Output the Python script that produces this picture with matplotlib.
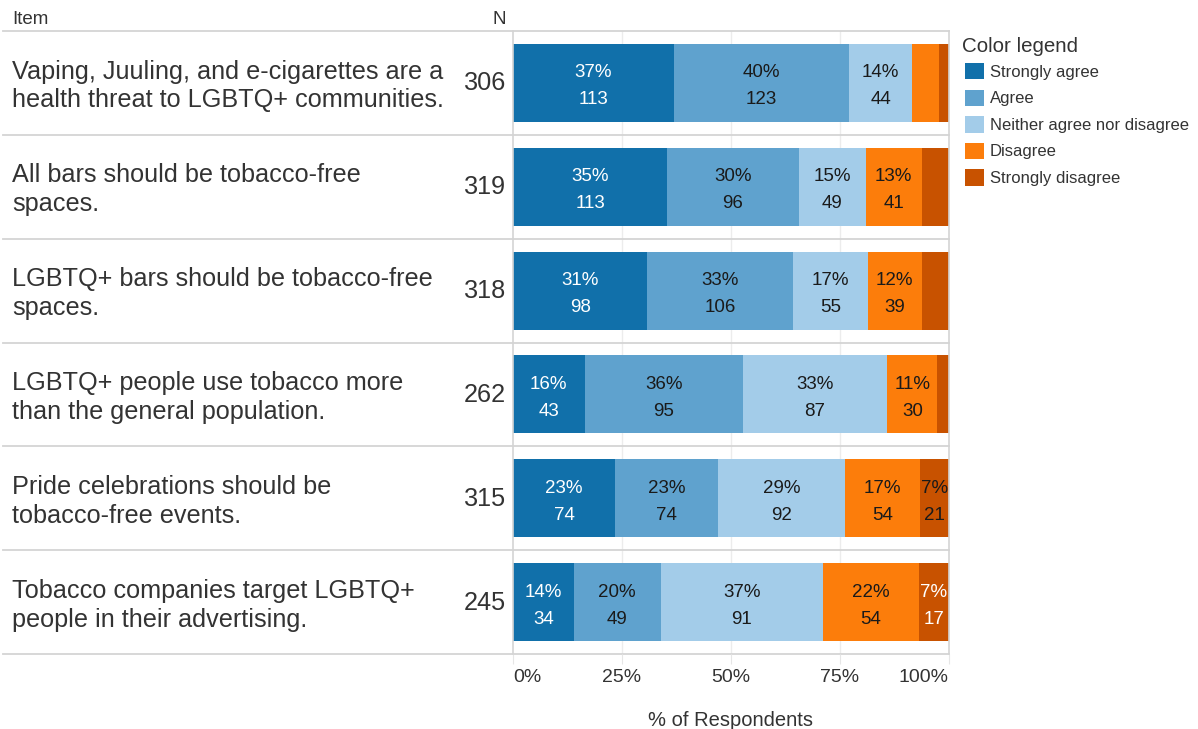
import matplotlib
matplotlib.use("Agg")
import matplotlib.pyplot as plt
from matplotlib.patches import Patch
from matplotlib.transforms import blended_transform_factory
import numpy as np

plt.rcParams["font.family"] = ["Liberation Sans", "DejaVu Sans"]

# Survey items, responses per agreement level
items = [
    "Vaping, Juuling, and e-cigarettes are a\nhealth threat to LGBTQ+ communities.",
    "All bars should be tobacco-free\nspaces.",
    "LGBTQ+ bars should be tobacco-free\nspaces.",
    "LGBTQ+ people use tobacco more\nthan the general population.",
    "Pride celebrations should be\ntobacco-free events.",
    "Tobacco companies target LGBTQ+\npeople in their advertising.",
]
levels = ["Strongly agree", "Agree", "Neither agree nor disagree",
          "Disagree", "Strongly disagree"]
strongly_agree = [113, 113, 98, 43, 74, 34]
agree = [123, 96, 106, 95, 74, 49]
neither = [44, 49, 55, 87, 92, 91]
disagree = [19, 41, 39, 30, 54, 54]
strongly_disagree = [7, 20, 20, 7, 21, 17]
x_ticks = [0, 0.25, 0.5, 0.75, 1.0]
x_tick_labels = ["0%", "25%", "50%", "75%", "100%"]

colors = ["#1170aa", "#5fa2ce", "#a3cce9", "#fc7d0b", "#c85200"]
label_colors = ["white", "#1a1a1a", "#1a1a1a", "#1a1a1a", "#1a1a1a"]
# individual label colour overrides (row, level)
label_color_override = {(5, 4): "white"}
text_color = "#333333"
line_color = "#d4d4d4"

counts = np.array([strongly_agree, agree, neither, disagree, strongly_disagree]).T
totals = counts.sum(axis=1)
shares = counts / totals[:, None]

W, H = 1198, 729
fig = plt.figure(figsize=(W / 100, H / 100), dpi=100)
ax_l, ax_r, ax_t, ax_b = 513, 949, 31, 654
ax = fig.add_axes([ax_l / W, 1 - ax_b / H, (ax_r - ax_l) / W, (ax_b - ax_t) / H])

n = len(items)
ax.set_ylim(n, 0)
ax.set_xlim(0, 1)

# vertical gridlines
for xv in x_ticks[1:-1]:
    ax.axvline(xv, color="#ececec", lw=1.0, zorder=0)

bar_h = 0.75
for i in range(n):
    left = 0.0
    for j in range(len(levels)):
        w = shares[i, j]
        ax.barh(i + 0.5, w, left=left, height=bar_h, color=colors[j],
                edgecolor="none", zorder=2)
        if w >= 0.065:
            cx = left + w / 2
            c = label_color_override.get((i, j), label_colors[j])
            ax.text(cx, i + 0.5 - 0.097, f"{round(w * 100):d}%", ha="center",
                    va="center", fontsize=13.5, color=c, zorder=3)
            ax.text(cx, i + 0.5 + 0.163, f"{counts[i, j]}", ha="center",
                    va="center", fontsize=13.5, color=c, zorder=3)
        left += w

# row separators spanning label area and plot
trans = blended_transform_factory(ax.transAxes, ax.transData)
x0 = (3 - ax_l) / (ax_r - ax_l)
for k in range(n + 1):
    ax.plot([x0, 1], [k, k], color=line_color, lw=1.3, transform=trans,
            clip_on=False, zorder=1)

# item labels and N column
for i in range(n):
    ax.text((12 - ax_l) / (ax_r - ax_l), i + 0.53, items[i], transform=trans,
            ha="left", va="center", fontsize=18.2, color=text_color,
            linespacing=1.25)
    ax.text((506 - ax_l) / (ax_r - ax_l), i + 0.505, f"{totals[i]}",
            transform=trans, ha="right", va="center", fontsize=18.2,
            color=text_color)

fig.text(12 / W, 1 - 20 / H, "Item", ha="left", va="center", fontsize=13.5,
         color=text_color)
fig.text(506 / W, 1 - 20 / H, "N", ha="right", va="center", fontsize=13.5,
         color=text_color)

for s in ["top", "bottom"]:
    ax.spines[s].set_visible(False)
ax.spines["left"].set_color(line_color)
ax.spines["right"].set_color(line_color)
ax.spines["left"].set_linewidth(1.2)
ax.spines["right"].set_linewidth(1.2)

ax.set_yticks([])
ax.set_xticks(x_ticks)
ax.set_xticklabels(x_tick_labels, fontsize=14, color=text_color)
ax.tick_params(axis="x", length=7, color="#e6e6e6", pad=4)
labels = ax.get_xticklabels()
labels[0].set_ha("left")
labels[-1].set_ha("right")
ax.set_xlabel("% of Respondents", fontsize=14.5, color=text_color, labelpad=18)

# colour legend
fig.text(962 / W, 1 - 46 / H, "Color legend", ha="left", va="center",
         fontsize=14.8, color=text_color)
handles = [Patch(facecolor=c, edgecolor="none") for c in colors]
leg = fig.legend(handles, levels, loc="upper left",
                 bbox_to_anchor=(965 / W, 1 - 63 / H), frameon=False,
                 fontsize=12, borderpad=0, borderaxespad=0,
                 handlelength=1.14, handleheight=1.14, handletextpad=0.36,
                 labelspacing=0.58)
for t in leg.get_texts():
    t.set_color(text_color)

fig.savefig("out.png", dpi=100, facecolor="white")
